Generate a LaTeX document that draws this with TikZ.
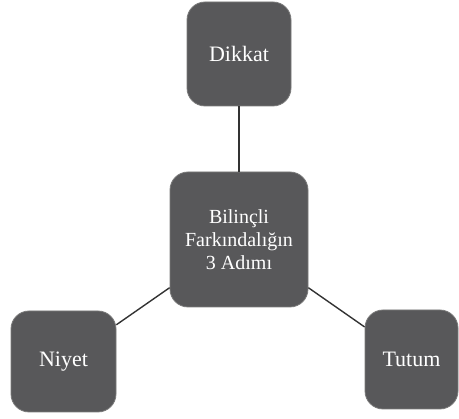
\documentclass[tikz,border=0pt]{standalone}
\usepackage{fontspec}
\setmainfont{Liberation Serif}
\definecolor{boxfill}{HTML}{58585A}
\definecolor{boxline}{HTML}{7A7A7A}
\definecolor{linkc}{HTML}{333333}
\begin{document}
\begin{tikzpicture}[x=1pt,y=1pt,
  boxn/.style={draw=boxline, line width=0.8pt, fill=boxfill, rounded corners=18pt, text=white, inner sep=0pt, align=center, font=\rmfamily\fontsize{22}{25}\selectfont},
  link/.style={draw=linkc, line width=1.4pt}]
\useasboundingbox (0,0) rectangle (459,419);
\node[boxn, minimum width=104pt, minimum height=104pt] (dik) at (239,365) {Dikkat};
\node[boxn, minimum width=138pt, minimum height=135pt, font=\rmfamily\fontsize{20}{23}\selectfont] (mid) at (239,179.5) {Bilinçli\\Farkındalığın\\3 Adımı};
\node[boxn, minimum width=105pt, minimum height=101pt] (niy) at (63.5,57.5) {Niyet};
\node[boxn, minimum width=93pt, minimum height=99pt] (tut) at (411.5,59.5) {Tutum};
\draw[link] (dik) -- (mid);
\draw[link] (mid) -- (niy);
\draw[link] (mid) -- (tut);
\end{tikzpicture}
\end{document}
